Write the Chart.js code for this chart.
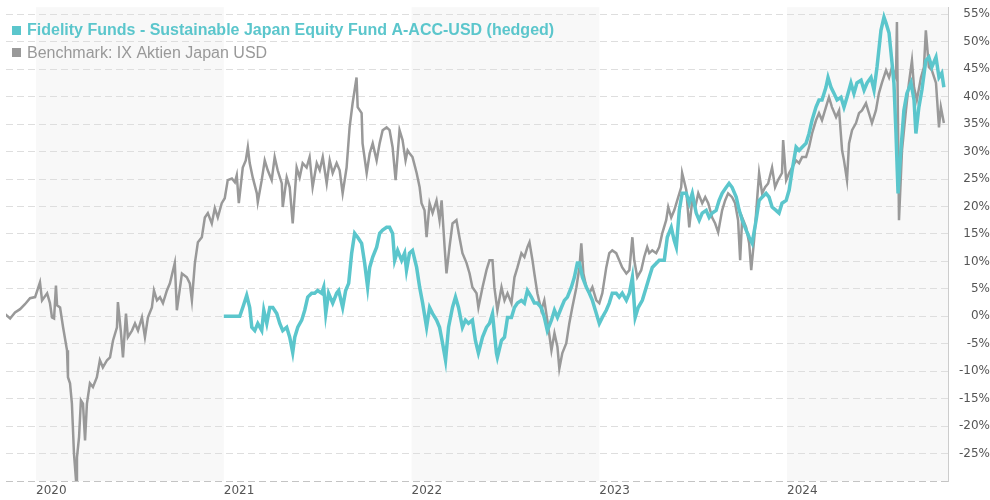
<!DOCTYPE html>
<html>
<head>
<meta charset="utf-8">
<script src="https://cdn.jsdelivr.net/npm/chart.js@4.4.0/dist/chart.umd.min.js"></script>
<style>
  html, body { margin: 0; padding: 0; background: #fff; }
  #wrap { width: 990px; height: 500px; }
</style>
</head>
<body>
<div id="wrap"><canvas id="chart" width="990" height="500"></canvas></div>
<script>
const fundName = 'Fidelity Funds - Sustainable Japan Equity Fund A-ACC-USD (hedged)';
const benchName = 'Benchmark: IX Aktien Japan USD';

const yearTicks = [2020, 2021, 2022, 2023, 2024];
const shadedYears = [2020, 2022, 2024];
const percentTicks = [-30, -25, -20, -15, -10, -5, 0, 5, 10, 15, 20, 25, 30, 35, 40, 45, 50, 55];

// dates are decimal years
const benchDates = [
  2019.835,2019.862,2019.888,2019.915,2019.941,2019.968,2019.995,2020.021,2020.032,2020.059,
  2020.074,2020.085,2020.096,2020.106,2020.112,2020.128,2020.144,2020.165,2020.170,2020.181,
  2020.191,2020.202,2020.213,2020.218,2020.229,2020.239,2020.250,2020.261,2020.271,2020.287,
  2020.303,2020.324,2020.340,2020.356,2020.378,2020.394,2020.410,2020.431,2020.436,2020.452,
  2020.463,2020.479,2020.489,2020.511,2020.527,2020.543,2020.564,2020.580,2020.596,2020.617,
  2020.628,2020.644,2020.660,2020.676,2020.697,2020.713,2020.739,2020.750,2020.777,2020.803,
  2020.819,2020.830,2020.846,2020.862,2020.883,2020.899,2020.915,2020.936,2020.952,2020.968,
  2020.989,2021.005,2021.021,2021.043,2021.059,2021.069,2021.080,2021.101,2021.117,2021.128,
  2021.138,2021.154,2021.176,2021.181,2021.202,2021.218,2021.234,2021.255,2021.271,2021.287,
  2021.309,2021.314,2021.335,2021.351,2021.367,2021.388,2021.404,2021.420,2021.441,2021.457,
  2021.473,2021.495,2021.511,2021.527,2021.548,2021.564,2021.580,2021.601,2021.617,2021.633,
  2021.654,2021.670,2021.686,2021.707,2021.713,2021.734,2021.739,2021.761,2021.777,2021.793,
  2021.814,2021.830,2021.846,2021.867,2021.883,2021.899,2021.915,2021.936,2021.952,2021.968,
  2021.979,2021.989,2022.005,2022.027,2022.043,2022.053,2022.069,2022.080,2022.096,2022.112,
  2022.133,2022.149,2022.160,2022.176,2022.186,2022.202,2022.218,2022.239,2022.255,2022.271,
  2022.293,2022.309,2022.324,2022.346,2022.356,2022.378,2022.399,2022.415,2022.431,2022.441,
  2022.457,2022.479,2022.495,2022.511,2022.532,2022.548,2022.564,2022.585,2022.601,2022.617,
  2022.628,2022.644,2022.654,2022.670,2022.691,2022.707,2022.723,2022.745,2022.761,2022.777,
  2022.787,2022.803,2022.824,2022.840,2022.856,2022.878,2022.894,2022.904,2022.915,2022.931,
  2022.947,2022.963,2022.984,2023.000,2023.016,2023.037,2023.053,2023.069,2023.090,2023.106,
  2023.122,2023.144,2023.160,2023.176,2023.186,2023.202,2023.223,2023.239,2023.255,2023.266,
  2023.282,2023.303,2023.319,2023.335,2023.356,2023.367,2023.383,2023.399,2023.415,2023.436,
  2023.441,2023.463,2023.479,2023.495,2023.511,2023.527,2023.548,2023.564,2023.580,2023.601,
  2023.617,2023.633,2023.654,2023.670,2023.686,2023.707,2023.723,2023.739,2023.750,2023.761,
  2023.782,2023.798,2023.809,2023.824,2023.840,2023.851,2023.867,2023.883,2023.899,2023.920,
  2023.936,2023.952,2023.973,2023.979,2023.995,2024.011,2024.027,2024.048,2024.064,2024.080,
  2024.101,2024.117,2024.133,2024.154,2024.170,2024.186,2024.207,2024.223,2024.239,2024.261,
  2024.277,2024.293,2024.303,2024.319,2024.330,2024.346,2024.367,2024.383,2024.399,2024.420,
  2024.436,2024.452,2024.473,2024.489,2024.505,2024.527,2024.543,2024.559,2024.580,2024.585,
  2024.596,2024.612,2024.633,2024.649,2024.665,2024.676,2024.691,2024.713,2024.729,2024.739,
  2024.755,2024.771,2024.793,2024.809,2024.819,2024.835
];
const benchValues = [
  0.4,-0.4,0.7,1.3,2.2,3.3,3.5,6.2,2.9,4.2,
  2.4,-0.2,-0.4,5.6,2.0,1.6,-2.0,-6.2,-11.1,-12.2,
  -15.9,-25.0,-29.9,-25.7,-22.0,-15.3,-15.9,-22.6,-15.9,-12.2,
  -12.9,-11.1,-8.0,-9.3,-8.0,-7.5,-4.4,-2.0,2.6,-2.9,
  -7.5,0.5,-3.8,-2.6,-1.3,-2.6,-0.2,-3.8,-0.2,1.6,
  4.7,2.9,3.5,2.4,4.7,6.0,9.7,1.1,7.8,7.1,
  6.0,2.9,9.7,13.5,14.4,18.0,18.8,16.9,19.7,18.0,
  20.6,21.5,24.8,25.1,24.4,25.7,20.6,27.1,28.4,30.8,
  27.9,25.3,22.4,20.8,24.8,28.4,26.6,24.8,29.0,26.6,
  24.2,19.9,25.3,23.5,16.9,27.1,25.3,27.9,27.1,29.0,
  23.5,27.9,26.6,29.0,24.2,28.4,26.1,27.9,26.6,22.4,
  27.1,34.4,38.8,43.5,38.1,37.0,31.5,26.1,29.7,31.5,
  28.4,31.5,33.9,34.4,33.9,30.8,24.8,33.9,32.1,28.4,
  30.2,29.7,29.0,26.1,23.5,20.6,19.3,14.4,20.6,18.8,
  21.1,17.5,21.1,12.6,7.8,12.6,16.9,17.5,14.4,11.5,
  9.7,7.8,5.3,4.2,1.6,5.3,8.4,10.2,10.2,5.3,
  1.1,5.3,2.9,4.2,2.4,7.1,8.9,11.5,10.8,12.6,
  13.5,10.2,7.8,4.2,1.1,2.9,-0.7,-6.2,-3.1,-5.6,
  -9.5,-6.7,-4.9,-1.3,1.6,5.3,8.9,13.3,7.8,5.3,
  4.2,5.3,2.9,2.4,4.2,8.9,11.5,12.0,11.5,10.2,
  8.9,7.8,8.4,14.4,10.2,7.1,8.4,10.8,12.6,11.5,
  12.0,11.5,12.6,15.1,17.5,19.9,18.0,19.3,21.1,23.5,
  26.1,23.0,16.2,21.1,19.9,22.4,20.6,21.7,20.6,18.0,
  16.9,15.3,19.3,21.1,22.4,21.7,20.6,17.5,10.2,18.0,
  16.2,13.3,8.4,13.8,21.1,26.1,22.4,23.5,24.2,27.1,
  23.5,24.8,26.1,32.1,24.8,26.1,27.1,28.4,27.9,29.0,
  29.0,30.8,33.3,35.7,37.0,35.7,38.1,39.9,38.1,36.3,
  37.5,30.2,28.4,24.8,31.5,33.9,35.2,37.0,37.5,38.8,
  37.0,35.2,37.5,40.6,42.5,44.8,43.5,45.4,43.5,53.6,
  17.5,30.2,37.5,42.5,46.6,41.7,39.4,43.5,45.4,52.1,
  45.4,44.8,42.5,34.4,38.1,35.2
];

const fundDates = [
  2021.000,2021.085,2021.101,2021.122,2021.138,2021.149,2021.165,2021.181,2021.202,2021.213,
  2021.229,2021.245,2021.261,2021.282,2021.298,2021.314,2021.335,2021.351,2021.367,2021.378,
  2021.394,2021.415,2021.431,2021.447,2021.468,2021.484,2021.500,2021.521,2021.532,2021.543,
  2021.558,2021.580,2021.601,2021.612,2021.633,2021.649,2021.665,2021.681,2021.697,2021.713,
  2021.734,2021.750,2021.766,2021.777,2021.793,2021.814,2021.830,2021.846,2021.867,2021.883,
  2021.899,2021.910,2021.926,2021.947,2021.963,2021.973,2021.989,2022.005,2022.027,2022.043,
  2022.059,2022.080,2022.096,2022.112,2022.133,2022.149,2022.165,2022.181,2022.197,2022.218,
  2022.234,2022.250,2022.271,2022.287,2022.303,2022.324,2022.340,2022.356,2022.378,2022.399,
  2022.415,2022.431,2022.452,2022.457,2022.479,2022.495,2022.511,2022.532,2022.548,2022.564,
  2022.585,2022.601,2022.617,2022.638,2022.654,2022.670,2022.691,2022.707,2022.723,2022.745,
  2022.761,2022.777,2022.798,2022.814,2022.830,2022.851,2022.867,2022.883,2022.894,2022.910,
  2022.931,2022.947,2022.963,2022.984,2023.000,2023.016,2023.037,2023.053,2023.069,2023.090,
  2023.106,2023.122,2023.144,2023.160,2023.176,2023.191,2023.207,2023.229,2023.250,2023.266,
  2023.282,2023.319,2023.346,2023.362,2023.383,2023.399,2023.410,2023.426,2023.441,2023.463,
  2023.479,2023.495,2023.516,2023.532,2023.548,2023.569,2023.585,2023.601,2023.622,2023.638,
  2023.654,2023.676,2023.691,2023.707,2023.729,2023.745,2023.761,2023.782,2023.798,2023.814,
  2023.835,2023.851,2023.867,2023.888,2023.904,2023.920,2023.941,2023.957,2023.973,2023.995,
  2024.011,2024.027,2024.048,2024.064,2024.080,2024.101,2024.117,2024.133,2024.154,2024.170,
  2024.186,2024.207,2024.218,2024.234,2024.250,2024.266,2024.287,2024.303,2024.319,2024.340,
  2024.356,2024.372,2024.394,2024.410,2024.426,2024.447,2024.463,2024.479,2024.500,2024.516,
  2024.527,2024.543,2024.559,2024.569,2024.580,2024.591,2024.606,2024.622,2024.638,2024.660,
  2024.676,2024.686,2024.702,2024.718,2024.739,2024.755,2024.771,2024.793,2024.809,2024.824,
  2024.835
];
const fundValues = [
  0.0,0.0,1.6,3.8,1.6,-2.0,-2.6,-1.3,-2.6,1.1,
  -1.3,1.6,1.6,0.5,-1.3,-2.6,-2.0,-3.8,-6.6,-3.8,
  -2.0,-0.7,1.1,3.5,4.2,4.2,4.7,4.2,5.3,0.5,
  4.2,2.4,4.2,4.7,1.6,4.7,6.0,11.5,15.1,14.4,
  13.3,9.7,5.3,8.9,10.8,12.6,15.1,15.7,16.2,16.2,
  15.1,10.2,12.0,10.2,11.5,8.4,11.5,12.0,8.9,5.3,
  2.4,-2.0,1.6,0.5,-0.7,-2.0,-4.9,-8.0,-2.0,1.6,
  3.5,1.6,-2.0,-0.7,-1.3,-0.7,-4.4,-6.7,-3.8,-2.0,
  -1.3,0.5,-6.7,-7.5,-4.4,-3.8,-0.2,-0.2,1.6,2.4,
  2.9,2.4,4.7,3.5,2.4,2.4,1.6,-0.2,-2.6,-0.7,
  1.1,-0.2,1.6,2.9,3.5,5.3,7.1,9.7,9.7,7.1,
  5.3,4.2,2.9,0.5,-1.3,-0.2,1.1,2.4,4.2,4.2,
  3.5,4.2,2.9,4.2,7.1,-0.2,1.6,2.9,5.3,7.1,
  8.9,10.2,10.2,14.4,16.2,13.8,12.6,19.3,22.4,22.4,
  20.6,22.4,18.8,17.5,18.8,19.3,18.0,18.8,19.3,21.1,
  22.4,23.5,24.2,23.5,21.7,19.3,17.5,15.7,14.4,13.3,
  17.5,21.1,21.7,22.4,21.7,19.9,19.3,18.8,20.6,21.1,
  23.0,26.6,30.8,30.2,30.8,31.5,33.3,35.7,38.1,39.4,
  39.4,41.7,43.5,41.7,40.6,39.4,39.9,38.1,39.9,42.5,
  40.6,42.5,43.0,41.2,42.5,43.5,41.2,45.4,52.1,54.5,
  53.4,51.6,46.1,42.5,33.3,22.4,30.2,37.5,40.6,42.5,
  39.4,33.3,38.1,41.2,46.6,47.2,45.4,47.2,43.5,44.3,
  41.7
];

const fundColor = '#5bc6cc';
const benchColor = '#999999';
const tickFont = { family: '"DejaVu Sans", Verdana, sans-serif', size: 12 };

// light grey background for every other year
const yearBands = {
  id: 'yearBands',
  beforeDraw(chart) {
    const { ctx, chartArea, scales: { x } } = chart;
    ctx.save();
    ctx.fillStyle = '#f8f8f8';
    shadedYears.forEach(yr => {
      const x1 = Math.max(x.getPixelForValue(yr), chartArea.left);
      const x2 = Math.min(x.getPixelForValue(yr + 1), chartArea.right);
      if (x2 > x1) ctx.fillRect(x1, chartArea.top, x2 - x1, chartArea.bottom - chartArea.top);
    });
    ctx.restore();
  }
};

// legend in the top left corner, fund name bold
const cornerLegend = {
  id: 'cornerLegend',
  afterDraw(chart) {
    const ctx = chart.ctx;
    ctx.save();
    ctx.textBaseline = 'alphabetic';
    ctx.textAlign = 'left';
    ctx.fillStyle = fundColor;
    ctx.fillRect(12, 26, 9, 9);
    ctx.font = 'bold 16px "Liberation Sans", Arial, sans-serif';
    ctx.fillText(fundName, 27, 35);
    ctx.fillStyle = benchColor;
    ctx.fillRect(12, 48, 9, 9);
    ctx.font = '16px "Liberation Sans", Arial, sans-serif';
    ctx.fillText(benchName, 27, 58);
    ctx.restore();
  }
};

const fundPoints = fundDates.map((d, i) => ({ x: d, y: fundValues[i] }));
const benchPoints = benchDates.map((d, i) => ({ x: d, y: benchValues[i] }));

new Chart(document.getElementById('chart'), {
  type: 'line',
  data: {
    datasets: [
      {
        label: fundName,
        data: fundPoints,
        borderColor: fundColor,
        borderWidth: 3.5,
        pointRadius: 0,
        tension: 0,
        fill: false
      },
      {
        label: benchName,
        data: benchPoints,
        borderColor: benchColor,
        borderWidth: 2.5,
        pointRadius: 0,
        tension: 0,
        fill: false
      }
    ]
  },
  options: {
    responsive: false,
    animation: false,
    layout: { padding: { left: 6, top: 0, right: 0, bottom: 0 } },
    plugins: {
      legend: { display: false },
      tooltip: { enabled: false }
    },
    scales: {
      x: {
        type: 'linear',
        min: 2019.84,
        max: 2024.857,
        afterBuildTicks: s => { s.ticks = yearTicks.map(v => ({ value: v })); },
        afterFit: s => { s.height = 19; },
        grid: { display: false, drawTicks: false },
        border: { display: false },
        ticks: {
          align: 'start',
          maxRotation: 0,
          autoSkip: false,
          padding: 3,
          color: '#555',
          font: tickFont,
          callback: v => String(v)
        }
      },
      y: {
        position: 'right',
        min: -30,
        max: 56.3,
        afterBuildTicks: s => { s.ticks = percentTicks.map(v => ({ value: v })); },
        afterFit: s => { s.width = 42; },
        grid: {
          color: c => (c.tick && c.tick.value === -30) ? '#c4c4c4' : '#dedede',
          lineWidth: 1,
          drawTicks: false
        },
        border: { display: true, color: '#cccccc', width: 1, dash: [7, 4] },
        ticks: {
          crossAlign: 'far',
          padding: 0,
          color: '#555',
          font: tickFont,
          callback: v => v === -30 ? '' : v + '%'
        }
      }
    }
  },
  plugins: [yearBands, cornerLegend]
});
</script>
</body>
</html>
